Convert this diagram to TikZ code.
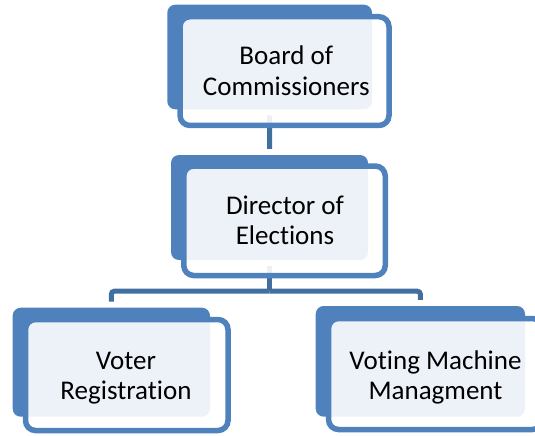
\documentclass[tikz,border=0pt]{standalone}
\usepackage{fontspec}
\setmainfont{Carlito}[RawFeature={-liga;-clig;-calt}]
\definecolor{boxblue}{HTML}{4F81BD}
\definecolor{linkblue}{HTML}{41709F}
\begin{document}
\begin{tikzpicture}[x=1pt,y=-1pt,
  backbox/.style={rectangle, rounded corners=8pt, fill=boxblue, inner sep=0pt},
  frontbox/.style={rectangle, rounded corners=10pt, draw=boxblue, line width=5.5pt, fill=white, fill opacity=0.9, inner sep=0pt},
  boxtext/.style={align=center, inner sep=0pt, font=\fontsize{27pt}{30.5pt}\selectfont, text=black},
  conn/.style={draw=linkblue, line width=5pt}]
\useasboundingbox (0,0) rectangle (535,436);
\clip (0,0) rectangle (535,436);
% back boxes
\node[backbox, minimum width=204.7pt, minimum height=104.6pt] (b1) at (269.65,57) {};
\node[backbox, minimum width=197pt, minimum height=105pt] (b2) at (269.5,207.5) {};
\node[backbox, minimum width=197.3pt, minimum height=109pt] (b3) at (111.35,362.2) {};
\node[backbox, minimum width=209.3pt, minimum height=110.7pt] (b4) at (420.35,361.35) {};
% connectors
\draw[conn] ([yshift=-6pt]b1.south) -- ([yshift=6pt]b2.north);
\draw[conn] ([yshift=-6pt]b2.south) -- ([yshift=-31pt]b2.south) coordinate (bar);
\draw[conn, rounded corners=3pt] (bar) -| ([yshift=6pt]b3.north);
\draw[conn, rounded corners=3pt] (bar) -| ([yshift=6pt]b4.north);
% front boxes
\node[frontbox, minimum width=209pt, minimum height=108.75pt] (f1) at (284.5,71.1) {};
\node[frontbox, minimum width=201.5pt, minimum height=109.5pt] (f2) at (284.5,220.75) {};
\node[frontbox, minimum width=202.5pt, minimum height=111pt] (f3) at (126.75,375) {};
\node[frontbox, minimum width=213.8pt, minimum height=111pt] (f4) at (435.4,374) {};
% texts
\node[boxtext] (t1) at (286.3,74.15) {\strut Board of\\Commissioners\strut};
\node[boxtext] (t2) at (285,223.2) {\strut Director of\\Elections\strut};
\node[boxtext] (t3) at (126,378.2) {\strut Voter\\Registration\strut};
\node[boxtext] (t4) at (435.5,378.2) {\strut Voting Machine\\Managment\strut};
\end{tikzpicture}
\end{document}
